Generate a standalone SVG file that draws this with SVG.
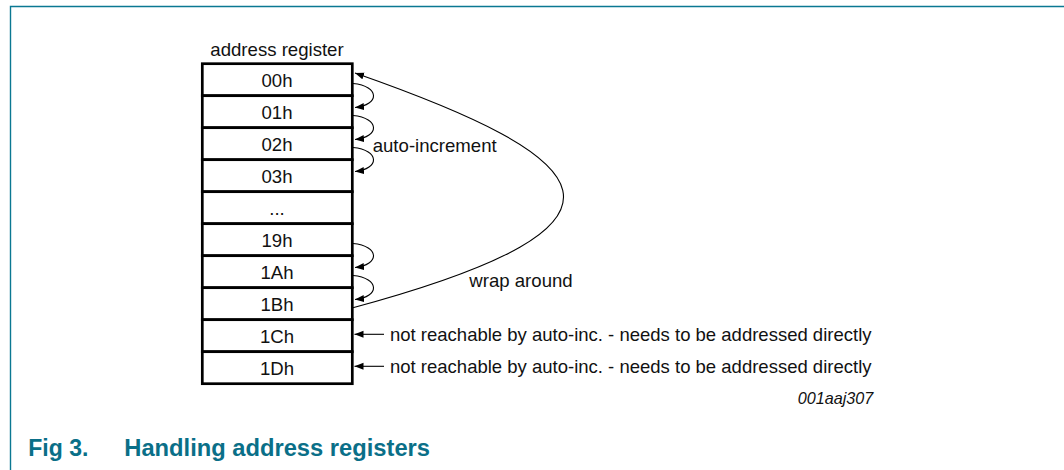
<svg xmlns="http://www.w3.org/2000/svg" width="1064" height="470" viewBox="0 0 1064 470">
  <defs>
    <marker id="ah" markerUnits="userSpaceOnUse" markerWidth="10" markerHeight="8" refX="9" refY="3.5" orient="auto">
      <path d="M0,0 L9,3.5 L0,7 z" fill="#000"/>
    </marker>
    <style>
      .t { font-family: "Liberation Sans", Arial, sans-serif; font-size: 18.6px; fill: #111; }
      .c { text-anchor: middle; }
      .box { fill: #fff; stroke: #000; stroke-width: 2.7; }
      .conn { fill: none; stroke: #000; stroke-width: 1.1; marker-end: url(#ah); }
      .title { font-family: "Liberation Sans", Arial, sans-serif; font-weight: bold; font-size: 23px; fill: #0a6f88; }
    </style>
  </defs>
  <rect x="0" y="0" width="1064" height="470" fill="#fff"/>
  <path d="M10.5,470 L10.5,6.5 L1064,6.5" fill="none" stroke="#0a7892" stroke-width="1.4"/>

  <text class="t c" x="277" y="56">address register</text>

  <g id="r00"><rect class="box" x="202.3" y="63.7" width="150" height="32"/><text class="t c" x="277" y="86.5">00h</text></g>
  <g id="r01"><rect class="box" x="202.3" y="95.7" width="150" height="32"/><text class="t c" x="277" y="118.5">01h</text></g>
  <g id="r02"><rect class="box" x="202.3" y="127.7" width="150" height="32"/><text class="t c" x="277" y="150.5">02h</text></g>
  <g id="r03"><rect class="box" x="202.3" y="159.7" width="150" height="32"/><text class="t c" x="277" y="182.5">03h</text></g>
  <g id="rdots"><rect class="box" x="202.3" y="191.7" width="150" height="32"/><text class="t c" x="277" y="214.5">...</text></g>
  <g id="r19"><rect class="box" x="202.3" y="223.7" width="150" height="32"/><text class="t c" x="277" y="246.5">19h</text></g>
  <g id="r1A"><rect class="box" x="202.3" y="255.7" width="150" height="32"/><text class="t c" x="277" y="278.5">1Ah</text></g>
  <g id="r1B"><rect class="box" x="202.3" y="287.7" width="150" height="32"/><text class="t c" x="277" y="310.5">1Bh</text></g>
  <g id="r1C"><rect class="box" x="202.3" y="319.7" width="150" height="32"/><text class="t c" x="277" y="342.5">1Ch</text></g>
  <g id="r1D"><rect class="box" x="202.3" y="351.7" width="150" height="32"/><text class="t c" x="277" y="374.5">1Dh</text></g>

  <g id="connectors">
    <path class="conn" d="M353,83.5 C380,86 380,105 355,107.5"/>
    <path class="conn" d="M353,115.5 C380,118 380,137 355,139.5"/>
    <path class="conn" d="M353,147.5 C380,150 380,169 355,171.5"/>
    <path class="conn" d="M353,243.5 C380,246 380,265 355,267.5"/>
    <path class="conn" d="M353,275.5 C380,278 380,297 355,299.5"/>
    <path class="conn" d="M352,308 C668,222.7 597,157.7 355,73"/>
    <path class="conn" d="M384,334.3 L354.5,334.3"/>
    <path class="conn" d="M384,366.3 L354.5,366.3"/>
  </g>

  <text class="t" x="372.7" y="151.7">auto-increment</text>
  <text class="t" x="469.3" y="287.3">wrap around</text>
  <text class="t" x="390" y="340.7" textLength="481.5" lengthAdjust="spacingAndGlyphs">not reachable by auto-inc. - needs to be addressed directly</text>
  <text class="t" x="390" y="372.7" textLength="481.5" lengthAdjust="spacingAndGlyphs">not reachable by auto-inc. - needs to be addressed directly</text>
  <text x="873.3" y="404" style="font-family: 'Liberation Sans', Arial, sans-serif; font-style: italic; font-size: 16.2px; fill: #111; text-anchor: end;">001aaj307</text>

  <text class="title" x="28.3" y="456">Fig 3.</text>
  <text class="title" x="124.3" y="456" textLength="305.7" lengthAdjust="spacingAndGlyphs">Handling address registers</text>
</svg>
